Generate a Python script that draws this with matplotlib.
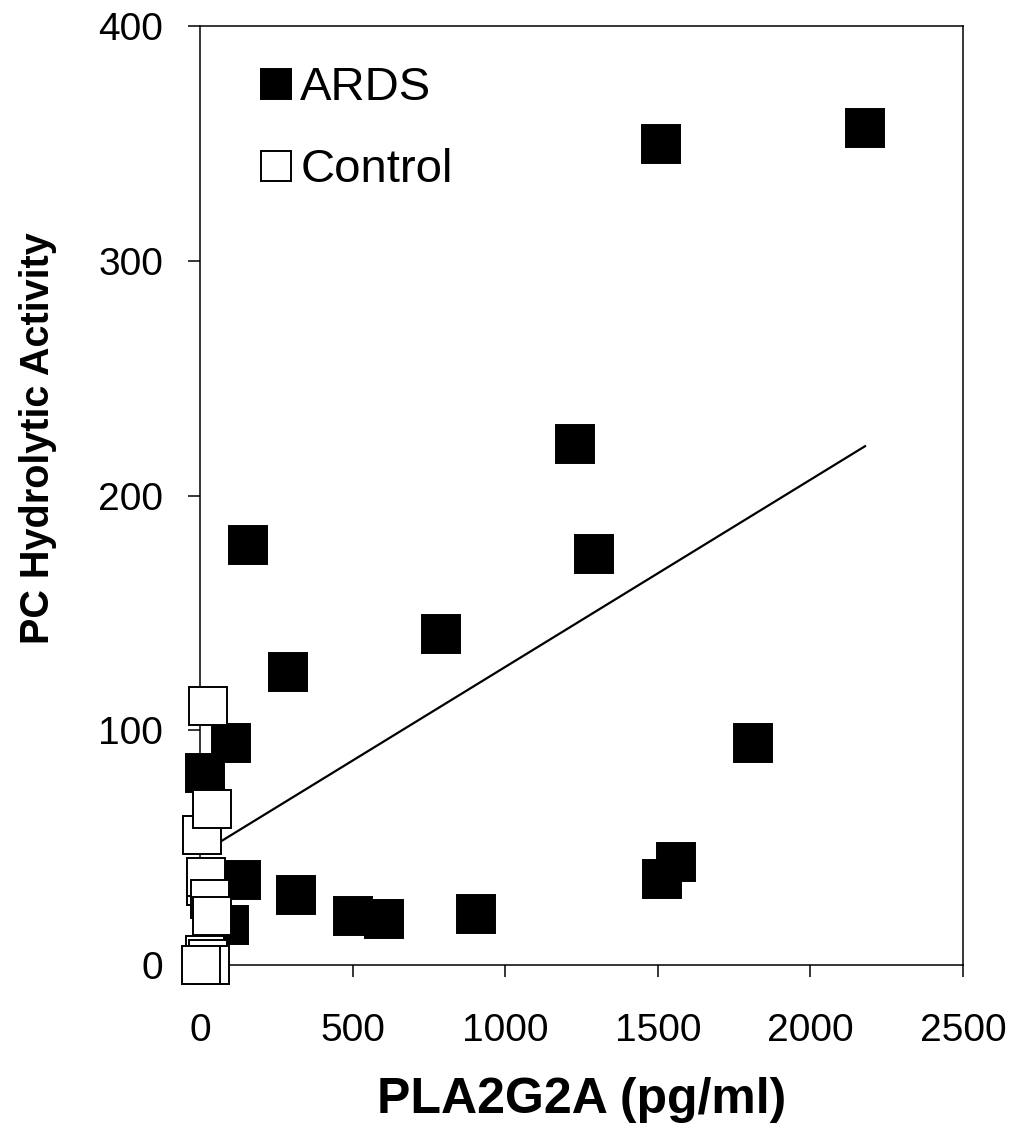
import matplotlib
matplotlib.use("Agg")
import matplotlib.pyplot as plt

# ---- data ----
ards_x = [96.6, 134, 2178, 1510, 1228, 1291, 156, 790, 288, 1812, 101.7, 16.4,
          1558, 1514, 313, 500, 603, 905]
ards_y = [17.2, 36.2, 356.4, 349.9, 221.9, 175.0, 179.0, 141.0, 125.0, 94.4, 94.6, 81.7,
          43.7, 36.8, 29.8, 20.9, 19.4, 21.9]

control_x = [25, 5, 39, 21, 20, 33, 38, 15, 25, 34, 3]
control_y = [110.3, 55.5, 66.6, 33.5, 37.5, 28.0, 21.0, 4.3, 2.5, 0.0, 0.0]

trend_x = [10, 2179]
trend_y = [48, 221]

x_ticks = [0, 500, 1000, 1500, 2000, 2500]
y_ticks = [0, 100, 200, 300, 400]

series_labels = ["ARDS", "Control"]
x_label = "PLA2G2A (pg/ml)"
y_label = "PC Hydrolytic Activity"

plt.rcParams['font.family'] = ['Liberation Sans', 'DejaVu Sans']

fig = plt.figure(figsize=(10.16, 11.33), dpi=100)
ax = fig.add_axes([200/1016, 1 - 965/1133, (963-200)/1016, (965-26)/1133])

ms = 27.4
mew = 1.4
ax.plot(ards_x, ards_y, linestyle='none', marker='s', markersize=ms,
        markerfacecolor='black', markeredgecolor='black', markeredgewidth=mew,
        clip_on=False, zorder=3, label=series_labels[0])
ax.plot(control_x, control_y, linestyle='none', marker='s', markersize=ms,
        markerfacecolor='white', markeredgecolor='black', markeredgewidth=mew,
        clip_on=False, zorder=4, label=series_labels[1])
ax.plot(trend_x, trend_y, color='black', linewidth=1.6, zorder=2.8)

ax.set_xlim(0, 2500)
ax.set_ylim(0, 400)
ax.set_xticks(x_ticks)
ax.set_yticks(y_ticks)
ax.tick_params(axis='both', direction='out', length=8.6, width=1.1,
               labelsize=28, color='black')
ax.tick_params(axis='x', pad=26)
ax.tick_params(axis='y', pad=18)
for s in ax.spines.values():
    s.set_linewidth(1.1)
    s.set_color('black')

ax.set_xlabel(x_label, fontsize=36, fontweight='bold')
ax.xaxis.set_label_coords(0.5, -0.119)
ax.set_ylabel(y_label, fontsize=28.5, fontweight='bold')
ax.yaxis.set_label_coords(-0.187, 0.5607)

leg = ax.legend(loc='upper left', bbox_to_anchor=(0.078, 0.957), frameon=False,
                fontsize=34, markerscale=0.8, handlelength=0.7, handletextpad=0.16,
                borderpad=0, borderaxespad=0, labelspacing=0.8)

fig.savefig("out.png", dpi=100)
